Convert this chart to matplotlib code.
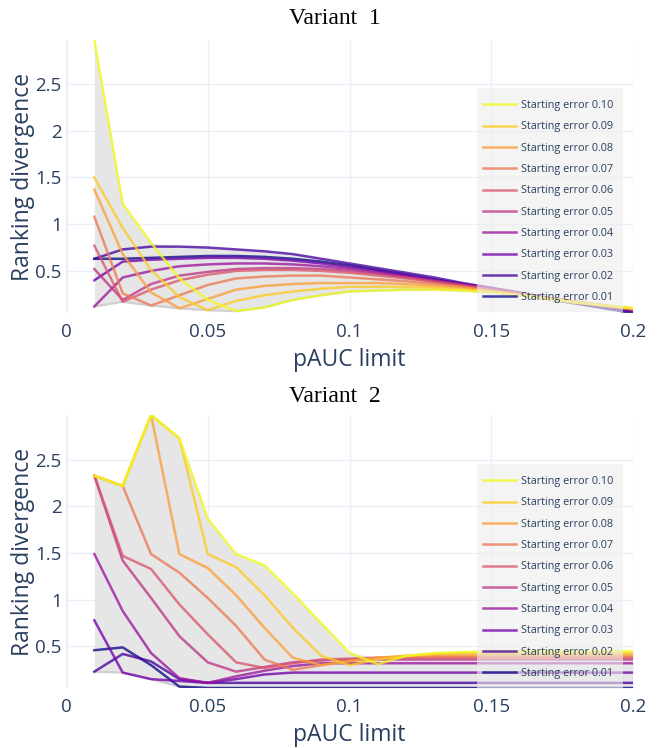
import numpy as np
import matplotlib
matplotlib.use("Agg")
import matplotlib.pyplot as plt
from matplotlib.lines import Line2D
from matplotlib.patches import Rectangle

# pAUC limits evaluated
pauc_limit = [0.01, 0.02, 0.03, 0.04, 0.05, 0.06, 0.07, 0.08, 0.09, 0.10,
              0.11, 0.12, 0.13, 0.14, 0.15, 0.16, 0.17, 0.18, 0.19, 0.20]

starting_errors = [0.10, 0.09, 0.08, 0.07, 0.06, 0.05, 0.04, 0.03, 0.02, 0.01]

# Variant 1: ranking divergence per starting error
v1_e10 = [2.97, 1.22, 0.80, 0.42, 0.19, 0.07, 0.11, 0.19, 0.24, 0.28, 0.29, 0.30, 0.30, 0.29, 0.27, 0.24, 0.20, 0.16, 0.13, 0.10]
v1_e09 = [1.50, 0.96, 0.51, 0.22, 0.08, 0.18, 0.24, 0.28, 0.31, 0.33, 0.33, 0.33, 0.32, 0.30, 0.28, 0.24, 0.20, 0.17, 0.13, 0.10]
v1_e08 = [1.37, 0.68, 0.27, 0.10, 0.20, 0.30, 0.34, 0.36, 0.37, 0.37, 0.37, 0.36, 0.34, 0.32, 0.28, 0.24, 0.20, 0.16, 0.13, 0.10]
v1_e07 = [1.08, 0.26, 0.13, 0.24, 0.35, 0.42, 0.44, 0.45, 0.45, 0.43, 0.41, 0.39, 0.36, 0.33, 0.29, 0.25, 0.21, 0.17, 0.13, 0.09]
v1_e06 = [0.77, 0.17, 0.30, 0.40, 0.46, 0.50, 0.51, 0.51, 0.50, 0.48, 0.45, 0.42, 0.38, 0.34, 0.30, 0.26, 0.21, 0.17, 0.13, 0.09]
v1_e05 = [0.52, 0.19, 0.36, 0.45, 0.49, 0.52, 0.53, 0.53, 0.52, 0.50, 0.47, 0.43, 0.39, 0.35, 0.31, 0.26, 0.21, 0.17, 0.12, 0.09]
v1_e04 = [0.12, 0.43, 0.50, 0.55, 0.57, 0.58, 0.58, 0.57, 0.55, 0.52, 0.48, 0.44, 0.40, 0.35, 0.31, 0.26, 0.21, 0.16, 0.12, 0.08]
v1_e03 = [0.40, 0.60, 0.62, 0.63, 0.64, 0.64, 0.63, 0.61, 0.58, 0.54, 0.50, 0.45, 0.40, 0.36, 0.31, 0.26, 0.21, 0.16, 0.12, 0.08]
v1_e02 = [0.63, 0.73, 0.76, 0.76, 0.75, 0.73, 0.71, 0.68, 0.63, 0.58, 0.53, 0.48, 0.43, 0.37, 0.32, 0.27, 0.21, 0.16, 0.11, 0.07]
v1_e01 = [0.63, 0.63, 0.64, 0.65, 0.66, 0.66, 0.65, 0.63, 0.60, 0.56, 0.51, 0.46, 0.41, 0.36, 0.31, 0.26, 0.20, 0.15, 0.10, 0.05]

# Variant 2: ranking divergence per starting error
v2_e10 = [2.33, 2.22, 2.98, 2.73, 1.87, 1.49, 1.37, 1.07, 0.75, 0.43, 0.31, 0.40, 0.43, 0.44, 0.45, 0.45, 0.45, 0.45, 0.45, 0.45]
v2_e09 = [2.33, 2.22, 2.98, 2.73, 1.49, 1.35, 1.05, 0.70, 0.40, 0.30, 0.36, 0.40, 0.42, 0.43, 0.43, 0.43, 0.43, 0.43, 0.43, 0.43]
v2_e08 = [2.33, 2.22, 2.98, 1.49, 1.34, 1.05, 0.70, 0.38, 0.30, 0.34, 0.38, 0.40, 0.41, 0.41, 0.41, 0.41, 0.41, 0.41, 0.41, 0.41]
v2_e07 = [2.33, 2.22, 1.49, 1.29, 1.02, 0.72, 0.36, 0.25, 0.30, 0.35, 0.38, 0.39, 0.39, 0.39, 0.39, 0.39, 0.39, 0.39, 0.39, 0.39]
v2_e06 = [2.33, 1.47, 1.33, 0.95, 0.63, 0.33, 0.27, 0.32, 0.36, 0.37, 0.38, 0.38, 0.38, 0.38, 0.38, 0.38, 0.38, 0.38, 0.38, 0.38]
v2_e05 = [2.33, 1.42, 1.02, 0.61, 0.33, 0.23, 0.28, 0.33, 0.35, 0.36, 0.36, 0.36, 0.36, 0.36, 0.36, 0.36, 0.36, 0.36, 0.36, 0.36]
v2_e04 = [1.49, 0.88, 0.43, 0.16, 0.11, 0.18, 0.24, 0.29, 0.32, 0.32, 0.32, 0.32, 0.32, 0.32, 0.32, 0.32, 0.32, 0.32, 0.32, 0.32]
v2_e03 = [0.78, 0.22, 0.15, 0.13, 0.11, 0.15, 0.20, 0.22, 0.22, 0.22, 0.22, 0.22, 0.22, 0.22, 0.22, 0.22, 0.22, 0.22, 0.22, 0.22]
v2_e02 = [0.23, 0.42, 0.34, 0.15, 0.11, 0.11, 0.11, 0.11, 0.11, 0.11, 0.11, 0.11, 0.11, 0.11, 0.11, 0.11, 0.11, 0.11, 0.11, 0.11]
v2_e01 = [0.46, 0.49, 0.30, 0.07, 0.055, 0.055, 0.055, 0.055, 0.055, 0.055, 0.055, 0.055, 0.055, 0.055, 0.055, 0.055, 0.055, 0.055, 0.055, 0.055]

variant1 = [v1_e10, v1_e09, v1_e08, v1_e07, v1_e06, v1_e05, v1_e04, v1_e03, v1_e02, v1_e01]
variant2 = [v2_e10, v2_e09, v2_e08, v2_e07, v2_e06, v2_e05, v2_e04, v2_e03, v2_e02, v2_e01]

# Plasma palette, from high to low starting error
colors = ['#f0f921', '#fdca26', '#fb9f3a', '#ed7953', '#d8576b',
          '#bd3786', '#9c179e', '#7201a8', '#46039f', '#0d0887']

TEXT = '#2a3f5f'
GRID = '#ebf0f8'
SANS = ['Open Sans', 'DejaVu Sans']
SERIF = ['Liberation Serif', 'DejaVu Serif']

W, H = 658, 748
fig = plt.figure(figsize=(W / 100, H / 100), dpi=100)


def px_axes(left, top, right, bottom):
    return fig.add_axes([left / W, 1 - bottom / H, (right - left) / W, (bottom - top) / H])


def draw_panel(ax, series, title, title_y, legend_top):
    x = np.array(pauc_limit)
    data = np.array(series)
    lo, hi = data.min(axis=0), data.max(axis=0)
    ax.fill_between(x, lo, hi, color='#e6e6e6', lw=0, zorder=1)
    ax.plot(x, lo, color='#cfcfcf', lw=1.6, zorder=1.5)
    # lowest starting error first so the high-error curves sit on top
    for i in range(len(series) - 1, -1, -1):
        ax.plot(x, series[i], color=colors[i], alpha=0.78, lw=1.8,
                zorder=2 + (len(series) - i) * 0.01, solid_joinstyle='round')
    handles = [Line2D([], [], color=c, alpha=0.78, lw=1.8) for c in colors]
    ax.set_xlim(0, 0.2)
    ax.set_ylim(data.min(), data.max())
    ax.set_xticks([0, 0.05, 0.1, 0.15, 0.2])
    ax.set_xticklabels(['0', '0.05', '0.1', '0.15', '0.2'])
    ax.set_yticks([0.5, 1, 1.5, 2, 2.5])
    ax.set_yticklabels(['0.5', '1', '1.5', '2', '2.5'])
    ax.grid(True, color=GRID, lw=1.0, zorder=0)
    ax.set_axisbelow(True)
    ax.axvline(0, color=GRID, lw=2.5, zorder=0.5)
    for s in ax.spines.values():
        s.set_visible(False)
    ax.tick_params(length=0, labelsize=13.5, labelcolor=TEXT, pad=3)
    ax.tick_params(axis='x', pad=7)
    for lab in ax.get_xticklabels() + ax.get_yticklabels():
        lab.set_family(SANS)
    ax.set_xlabel('pAUC limit', fontsize=16.5, color=TEXT, family=SANS, labelpad=5)
    ax.set_ylabel('Ranking divergence', fontsize=16.5, color=TEXT, family=SANS, labelpad=0)

    # legend background box
    box = Rectangle((477 / W, 1 - (legend_top + 224) / H), 146 / W, 224 / H,
                    transform=fig.transFigure, facecolor='#eeeeee', alpha=0.6,
                    edgecolor='none', zorder=4, clip_on=False)
    ax.add_artist(box)
    leg = ax.legend(handles, ['Starting error %.2f' % e for e in starting_errors],
                    loc='upper left',
                    bbox_to_anchor=(483 / W, 1 - (legend_top + 12) / H),
                    bbox_transform=fig.transFigure, frameon=False,
                    fontsize=7.8, handlelength=3.05, handletextpad=0.5,
                    labelspacing=0.955, borderpad=0, borderaxespad=0)
    leg.set_zorder(5)
    for t in leg.get_texts():
        t.set_color(TEXT)
        t.set_family(SANS)
    fig.text(335 / W, 1 - title_y / H, title, ha='center', va='center',
             fontsize=17, family=SERIF, color='black')
    return leg


ax1 = px_axes(66, 40, 633, 313)
draw_panel(ax1, variant1, 'Variant  1', 18, 88)

ax2 = px_axes(66, 415, 633, 688)
draw_panel(ax2, variant2, 'Variant  2', 397, 464)

fig.savefig('out.png', dpi=100)
